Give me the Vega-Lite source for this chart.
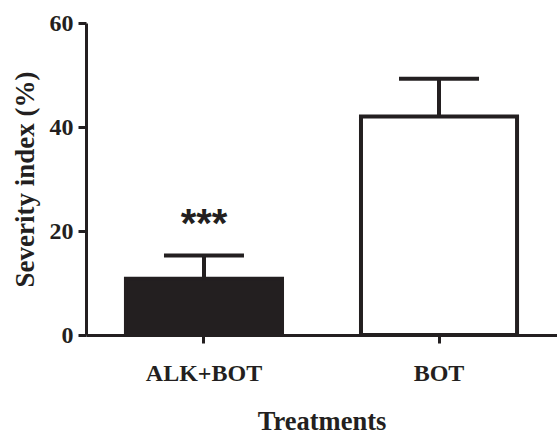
{
  "$schema": "https://vega.github.io/schema/vega-lite/v6.json",
  "width": 471,
  "height": 312,
  "autosize": {"type": "none"},
  "padding": {"left": 86, "top": 23, "right": 0, "bottom": 101},
  "background": "white",
  "config": {
    "view": {"stroke": null},
    "axis": {
      "labelFont": "Liberation Serif",
      "labelFontWeight": "bold",
      "labelFontSize": 24,
      "labelColor": "#231f20",
      "titleFont": "Liberation Serif",
      "titleFontWeight": "bold",
      "titleFontSize": 27,
      "titleColor": "#231f20",
      "domainColor": "#231f20",
      "domainWidth": 3,
      "tickColor": "#231f20",
      "tickWidth": 3,
      "tickSize": 8,
      "grid": false
    }
  },
  "data": {
    "values": [
      {"treatment": "ALK+BOT", "mean": 10.8, "upper": 15.3, "sig": "***"},
      {"treatment": "BOT", "mean": 42.0, "upper": 49.3, "sig": ""}
    ]
  },
  "encoding": {
    "x": {
      "field": "treatment",
      "type": "nominal",
      "sort": ["ALK+BOT", "BOT"],
      "scale": {"paddingInner": 0.336, "paddingOuter": 0.17},
      "axis": {"title": "Treatments", "titleFontSize": 26.5, "labelAngle": 0, "labelPadding": 18, "titlePadding": 23}
    }
  },
  "layer": [
    {
      "mark": {"type": "bar", "stroke": "#231f20", "strokeWidth": 4},
      "encoding": {
        "y": {
          "field": "mean",
          "type": "quantitative",
          "scale": {"domain": [0, 60], "nice": false},
          "axis": {"title": "Severity index (%)", "values": [0, 20, 40, 60], "labelPadding": 5, "titlePadding": 10}
        },
        "fill": {
          "field": "treatment",
          "type": "nominal",
          "scale": {"domain": ["ALK+BOT", "BOT"], "range": ["#231f20", "#ffffff"]},
          "legend": null
        }
      }
    },
    {
      "mark": {"type": "rule", "color": "#231f20", "strokeWidth": 4},
      "encoding": {
        "y": {"field": "mean", "type": "quantitative"},
        "y2": {"field": "upper"}
      }
    },
    {
      "mark": {"type": "tick", "color": "#231f20", "size": 80, "thickness": 4, "opacity": 1},
      "encoding": {
        "y": {"field": "upper", "type": "quantitative"}
      }
    },
    {
      "mark": {"type": "text", "font": "Liberation Sans", "fontWeight": "bold", "fontSize": 40, "color": "#231f20", "baseline": "alphabetic", "dy": -18},
      "encoding": {
        "y": {"field": "upper", "type": "quantitative"},
        "text": {"field": "sig"}
      }
    }
  ]
}
